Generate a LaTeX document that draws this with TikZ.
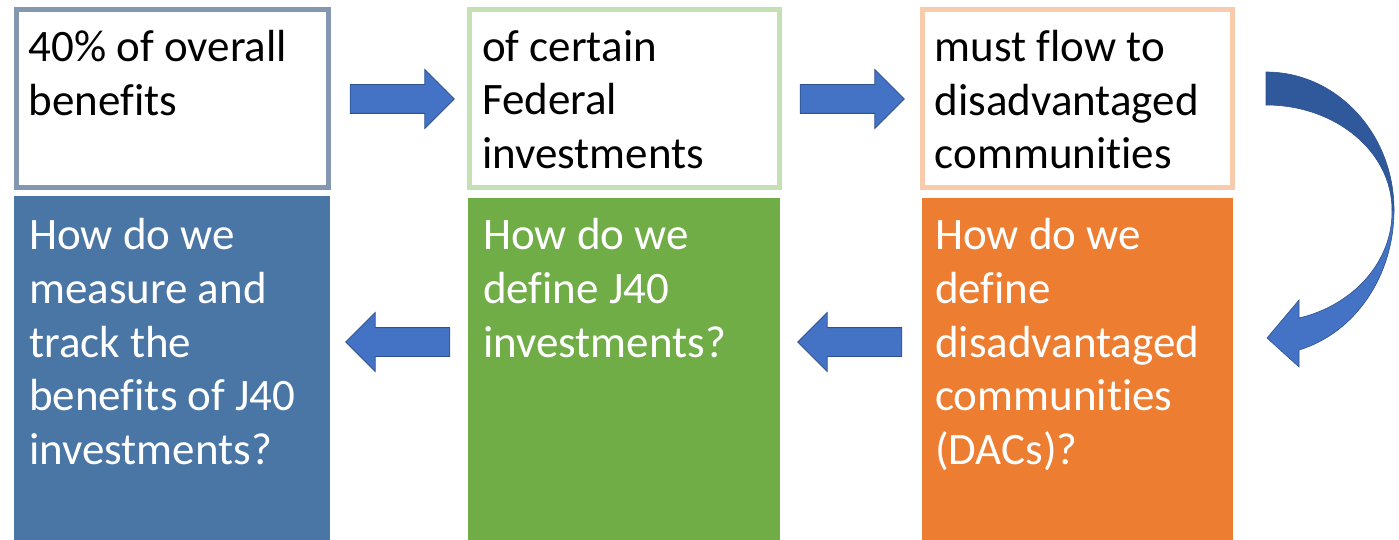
\documentclass[tikz,border=0pt]{standalone}
\usepackage{fontspec}
\setmainfont{Carlito}[Ligatures=NoCommon]
\usepackage{xcolor}
\usetikzlibrary{shapes.arrows, positioning, calc}

\definecolor{edgeblue}{HTML}{8497B0}
\definecolor{edgegreen}{HTML}{C5E0B4}
\definecolor{edgeorange}{HTML}{F8CBAD}
\definecolor{lowblue}{HTML}{4A76A6}
\definecolor{lowgreen}{HTML}{70AD47}
\definecolor{loworange}{HTML}{ED7D31}
\definecolor{arrowblue}{HTML}{4472C4}
\definecolor{arrowedge}{HTML}{2F528F}
\definecolor{curvedark}{HTML}{30599B}

\tikzset{
  topbox/.style={draw, line width=5pt, fill=white, inner sep=0pt, outer sep=0pt, anchor=north west},
  lowbox/.style={inner sep=0pt, outer sep=0pt, anchor=north west},
  boxtext/.style={anchor=north west, inner sep=0pt, align=left, font=\fontsize{45}{53.7}\selectfont,
    execute at begin node=\strut},
  blockarrow/.style={single arrow, fill=arrowblue, draw=arrowedge, line width=0.8pt,
    minimum height=104pt, single arrow head extend=15pt, inner sep=14pt}
}

\begin{document}
\begin{tikzpicture}[x=1pt,y=-1pt]
\useasboundingbox (0,0) rectangle (1399,540);
% Top row
\node[topbox, draw=edgeblue, minimum width=312pt, minimum height=178pt] (top1) at (16,10) {};
\node[topbox, draw=edgegreen, minimum width=310pt, minimum height=177.5pt] (top2) at (469.5,10) {};
\node[topbox, draw=edgeorange, minimum width=310pt, minimum height=177.5pt] (top3) at (922.5,10) {};
\node[boxtext] (top1txt) at ([shift={(12.5,20)}]top1.north west) {40\% of overall\\benefits};
\node[boxtext] (top2txt) at ([shift={(12.5,20)}]top2.north west) {of certain\\Federal\\investments};
\node[boxtext] (top3txt) at ([shift={(12,20)}]top3.north west) {must flow to\\disadvantaged\\communities};
% Bottom row
\node[lowbox, fill=lowblue, minimum width=316pt, minimum height=344pt] (low1) at (14,196) {};
\node[lowbox, fill=lowgreen, minimum width=312pt, minimum height=342pt] (low2) at (468,198) {};
\node[lowbox, fill=loworange, minimum width=311pt, minimum height=342pt] (low3) at (922,198) {};
\node[boxtext, text=white] (low1txt) at ([shift={(15,22.2)}]low1.north west) {How do we\\measure and\\track the\\benefits of J40\\investments?};
\node[boxtext, text=white] (low2txt) at ([shift={(15,20.2)}]low2.north west) {How do we\\define J40\\investments?};
\node[boxtext, text=white] (low3txt) at ([shift={(13,20.2)}]low3.north west) {How do we\\define\\disadvantaged\\communities\\(DACs)?};
% Block arrows
\node[blockarrow] (ar1) at (395,99) {};
\node[blockarrow] (ar2) at (845,99) {};
\node[blockarrow, shape border rotate=180] (al2) at (857,342) {};
\node[blockarrow, shape border rotate=180] (al1) at (405,342) {};
% Curved arrow on the right
\filldraw[curvedark, draw=arrowedge, line width=0.6pt] (1266,72) .. controls (1337,72) and (1394,134) .. (1394,210)
  -- (1392,210) .. controls (1392,152) and (1336,105) .. (1266,105) -- cycle;
\filldraw[arrowblue, draw=arrowedge, line width=0.6pt] (1394,210) .. controls (1394,276) and (1355,333) .. (1299,350)
  -- (1299,367) -- (1267,338) -- (1299,300) -- (1299,318)
  .. controls (1354,305) and (1393,261) .. (1392,210) -- cycle;
\end{tikzpicture}
\end{document}
